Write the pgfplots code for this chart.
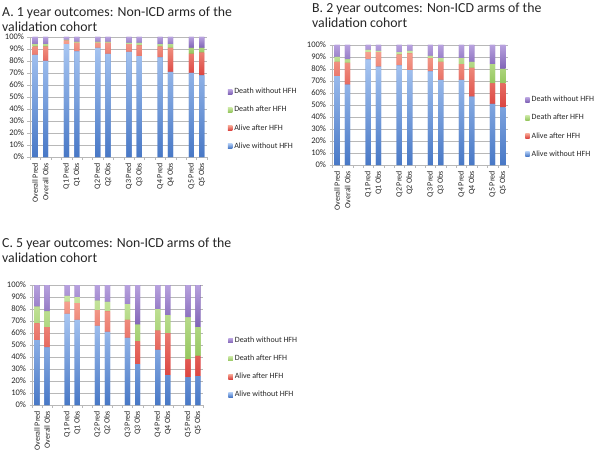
\documentclass[border=0pt]{standalone}
\usepackage{pgfplots}
\pgfplotsset{compat=1.18}
\usepackage{fontspec}
\setmainfont{Carlito}
\definecolor{blT}{HTML}{A8C6F2}
\definecolor{blB}{HTML}{4878C6}
\definecolor{rdT}{HTML}{F5A08E}
\definecolor{rdB}{HTML}{DB4440}
\definecolor{grT}{HTML}{C8E6A0}
\definecolor{grB}{HTML}{95C65E}
\definecolor{puT}{HTML}{B7A1DE}
\definecolor{puB}{HTML}{8063B6}
\definecolor{gridc}{HTML}{B8B8B8}
\pgfplotsset{
  outc/.style={
    ybar stacked, scale only axis, height=120pt,
    xmin=-0.5, xmax=16.5, ymin=0, ymax=100,
    bar width=5.2pt,
    xtick={0,1,3,4,6,7,9,10,12,13,15,16},
    xticklabels={Overall Pred, Overall Obs, Q1 Pred, Q1 Obs, Q2 Pred, Q2 Obs, Q3 Pred, Q3 Obs, Q4 Pred, Q4 Obs, Q5 Pred, Q5 Obs},
    x tick label style={rotate=90, anchor=east, font=\fontsize{8}{8}\selectfont, text=black!85},
    major x tick style={draw=none},
    minor xtick={-0.5,0.5,...,16.5},
    minor x tick style={draw=gridc},
    minor tick length=2.5pt, major tick length=2.5pt,
    tick align=outside,
    ytick={0,10,...,100},
    yticklabels={0\%,10\%,20\%,30\%,40\%,50\%,60\%,70\%,80\%,90\%,100\%},
    y tick label style={font=\fontsize{8.5}{8.5}\selectfont, text=black!85},
    y tick style={draw=gridc},
    ymajorgrids, grid style={gridc, line width=0.5pt},
    axis x line*=bottom, axis y line*=left,
    axis line style={gridc},
    reverse legend,
    legend cell align=left,
    legend image code/.code={\fill[##1] (0pt,-2.2pt) rectangle (4.4pt,2.2pt);},
    legend style={draw=none, fill=none, anchor=west, font=\fontsize{8}{9}\selectfont, row sep=7pt, text=black!85},
  },
  sA/.style={draw=none, top color=blT, bottom color=blB, fill=blB},
  sB/.style={draw=none, top color=rdT, bottom color=rdB, fill=rdB},
  sC/.style={draw=none, top color=grT, bottom color=grB, fill=grB},
  sD/.style={draw=none, top color=puT, bottom color=puB, fill=puB},
}
\begin{document}
\begin{tikzpicture}
\useasboundingbox (0pt,0pt) rectangle (600pt,456pt);
% titles
\tikzset{ttl/.style={anchor=base west, inner sep=0, font=\fontsize{13.8}{15}\selectfont, text=black!85}}
\node[ttl] at (2pt,439.5pt) {A. 1 year outcomes: Non-ICD arms of the};
\node[ttl] at (2pt,424.5pt) {validation cohort};
\node[ttl] at (312pt,443.5pt) {B. 2 year outcomes: Non-ICD arms of the};
\node[ttl] at (312pt,428.5pt) {validation cohort};
\node[ttl] at (2pt,208.5pt) {C. 5 year outcomes: Non-ICD arms of the};
\node[ttl] at (2pt,193.5pt) {validation cohort};

% Panel A
\begin{axis}[outc, width=177pt, at={(30pt,299pt)}, anchor=south west,
  legend style={at={(1.10,0.317)}}]
\addplot[sA] coordinates {(0,85) (1,80) (3,94) (4,88) (6,91) (7,86) (9,87.5) (10,84) (12,83) (13,71) (15,70) (16,68)};
\addplot[sB] coordinates {(0,7) (1,12) (3,3) (4,7) (6,4) (7,9) (9,6.5) (10,9) (12,9) (13,20) (15,16) (16,19)};
\addplot[sC] coordinates {(0,2) (1,2) (3,0.5) (4,1) (6,1) (7,1) (9,1) (10,2) (12,2) (13,3) (15,5) (16,4)};
\addplot[sD] coordinates {(0,6) (1,6) (3,2.5) (4,4) (6,4) (7,4) (9,5) (10,5) (12,6) (13,6) (15,9) (16,9)};
\legend{Alive without HFH, Alive after HFH, Death after HFH, Death without HFH}
\end{axis}

% Panel B
\begin{axis}[outc, width=176pt, at={(332pt,291pt)}, anchor=south west,
  legend style={at={(1.08,0.317)}}]
\addplot[sA] coordinates {(0,74) (1,67) (3,88) (4,82) (6,83) (7,79) (9,78) (10,71) (12,71) (13,57) (15,51) (16,48)};
\addplot[sB] coordinates {(0,12) (1,18) (3,6) (4,12) (6,9) (7,14) (9,11) (10,15) (12,13) (13,24) (15,17) (16,20)};
\addplot[sC] coordinates {(0,4) (1,3) (3,2) (4,1) (6,2) (7,2) (9,2) (10,3) (12,5) (13,5) (15,16) (16,12)};
\addplot[sD] coordinates {(0,10) (1,12) (3,4) (4,5) (6,6) (7,5) (9,9) (10,11) (12,11) (13,14) (15,16) (16,20)};
\legend{Alive without HFH, Alive after HFH, Death after HFH, Death without HFH}
\end{axis}

% Panel C
\begin{axis}[outc, width=171pt, at={(32pt,51pt)}, anchor=south west,
  legend style={at={(1.13,0.31)}}]
\addplot[sA] coordinates {(0,54) (1,48) (3,76) (4,71) (6,66) (7,61) (9,56) (10,34) (12,46) (13,25) (15,23) (16,24)};
\addplot[sB] coordinates {(0,14) (1,17) (3,10) (4,14) (6,13) (7,17) (9,15) (10,19) (12,16) (13,35) (15,15) (16,17)};
\addplot[sC] coordinates {(0,14) (1,13) (3,5) (4,5) (6,8) (7,8) (9,13) (10,14) (12,18) (13,15) (15,35) (16,24)};
\addplot[sD] coordinates {(0,18) (1,22) (3,9) (4,10) (6,13) (7,14) (9,16) (10,33) (12,20) (13,25) (15,27) (16,35)};
\legend{Alive without HFH, Alive after HFH, Death after HFH, Death without HFH}
\end{axis}
\end{tikzpicture}
\end{document}
